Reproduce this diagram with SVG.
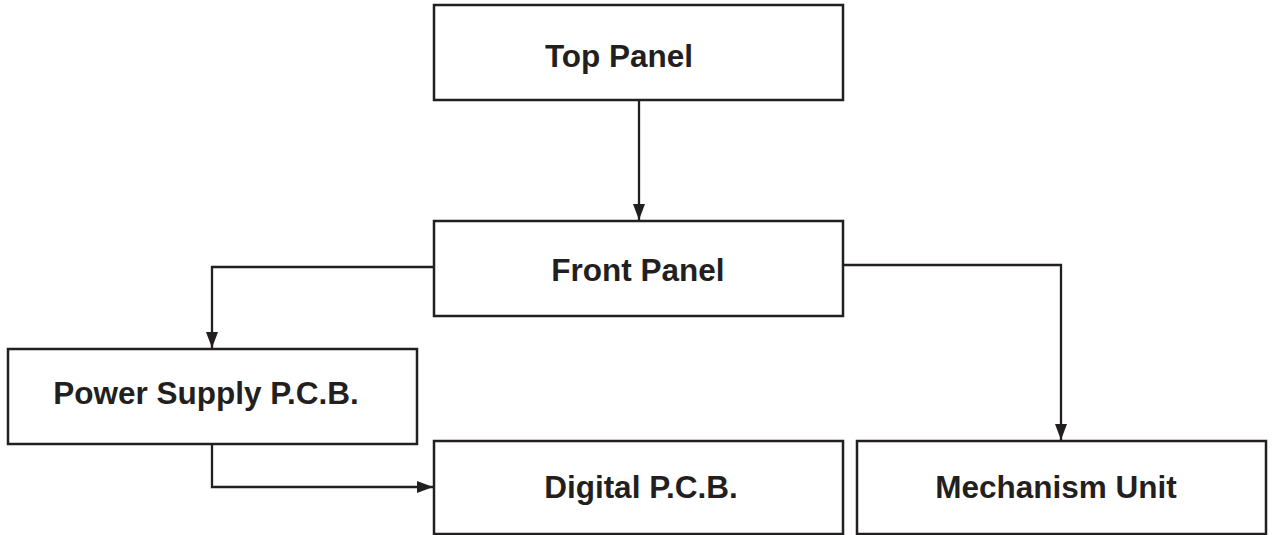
<svg xmlns="http://www.w3.org/2000/svg" width="1272" height="535" viewBox="0 0 1272 535">
<style>
.box{fill:#fff;stroke:#231f20;stroke-width:2.5}
.lbl{font-family:"Liberation Sans",Arial,sans-serif;font-weight:bold;font-size:31.5px;fill:#231f20;text-anchor:middle}
.conn{fill:none;stroke:#231f20;stroke-width:2.3}
</style>
<defs>
<marker id="arr" markerWidth="16" markerHeight="12" viewBox="0 0 16 12" refX="16" refY="6" orient="auto" markerUnits="userSpaceOnUse">
<path d="M0,0 L16,6 L0,12 z" fill="#231f20"/>
</marker>
</defs>
<rect width="1272" height="535" fill="#fff"/>
<g id="connectors">
<path class="conn" d="M639,100 V220" marker-end="url(#arr)"/>
<path class="conn" d="M434,267 H212 V348" marker-end="url(#arr)"/>
<path class="conn" d="M843,265 H1061 V440" marker-end="url(#arr)"/>
<path class="conn" d="M212,444 V487 H433" marker-end="url(#arr)"/>
</g>
<g id="top-panel"><rect class="box" x="434" y="5" width="409" height="95"/><text class="lbl" x="619" y="67">Top Panel</text></g>
<g id="front-panel"><rect class="box" x="434" y="221" width="409" height="95"/><text class="lbl" x="638" y="281">Front Panel</text></g>
<g id="power-supply"><rect class="box" x="8" y="349" width="409" height="95"/><text class="lbl" x="206" y="404">Power Supply P.C.B.</text></g>
<g id="digital"><rect class="box" x="434" y="441" width="409" height="93"/><text class="lbl" x="641" y="498">Digital P.C.B.</text></g>
<g id="mechanism"><rect class="box" x="857" y="441" width="409" height="93"/><text class="lbl" x="1056" y="498">Mechanism Unit</text></g>
</svg>
